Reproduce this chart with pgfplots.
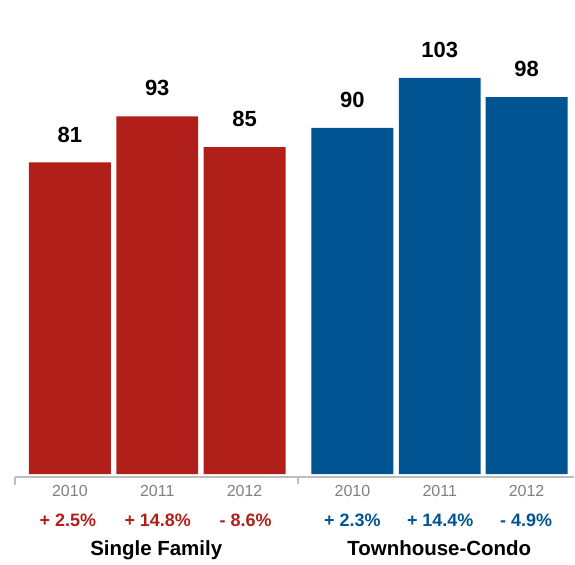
\documentclass[border=0pt]{standalone}
\usepackage{pgfplots}
\pgfplotsset{compat=1.18}
\usepackage{fontspec}
\setmainfont{Liberation Sans}
\definecolor{sfred}{RGB}{177,31,26}
\definecolor{tcblue}{RGB}{0,84,145}
\definecolor{yeargray}{RGB}{128,128,128}
\definecolor{linegray}{RGB}{190,190,190}
\tikzset{yearlab/.style={anchor=base, text=yeargray, font=\fontsize{16}{18}\selectfont, inner sep=0pt},
  pctlab/.style={anchor=base, font=\fontsize{18}{20}\selectfont\bfseries, inner sep=0pt},
  grplab/.style={anchor=base, text=black, font=\fontsize{20.5}{23}\selectfont\bfseries, inner sep=0pt}}
\begin{document}
\begin{tikzpicture}
\begin{axis}[
  scale only axis, width=575pt, height=565pt,
  xmin=0, xmax=575, ymin=-23.35, ymax=123.22,
  hide axis, clip=false,
  ybar, bar width=82, bar shift=0pt,
  /pgf/number format/assume math mode=true,
  nodes near coords,
  every node near coord/.append style={anchor=south, inner sep=0pt, yshift=20pt,
    font=\fontsize{22}{24}\selectfont\bfseries, text=black},
]
\path (rel axis cs:0,0) rectangle (rel axis cs:1,1);
\addplot[fill=sfred, draw=none] coordinates {(70,81) (157.5,93) (245,85)};
\addplot[fill=tcblue, draw=none] coordinates {(353,90) (440.5,103) (527.5,98)};
% baseline and ticks
\draw[linegray, line width=2pt] (axis cs:15.5,-0.78) -- (axis cs:575,-0.78);
\draw[linegray, line width=2pt] (axis cs:15.5,-0.78) -- (axis cs:15.5,-2.85);
\draw[linegray, line width=2pt] (axis cs:299,-0.78) -- (axis cs:299,-2.6);
% year labels
\node[yearlab] at (axis cs:70,-5.7) {2010};
\node[yearlab] at (axis cs:157.5,-5.7) {2011};
\node[yearlab] at (axis cs:245,-5.7) {2012};
\node[yearlab] at (axis cs:353,-5.7) {2010};
\node[yearlab] at (axis cs:440.5,-5.7) {2011};
\node[yearlab] at (axis cs:527.5,-5.7) {2012};
% percent labels
\node[pctlab, text=sfred] at (axis cs:68,-13.49) {+ 2.5\%};
\node[pctlab, text=sfred] at (axis cs:158,-13.49) {+ 14.8\%};
\node[pctlab, text=sfred] at (axis cs:246,-13.49) {- 8.6\%};
\node[pctlab, text=tcblue] at (axis cs:353,-13.49) {+ 2.3\%};
\node[pctlab, text=tcblue] at (axis cs:441,-13.49) {+ 14.4\%};
\node[pctlab, text=tcblue] at (axis cs:527,-13.49) {- 4.9\%};
% group labels
\node[grplab] at (axis cs:156.5,-21.2) {Single Family};
\node[grplab] at (axis cs:440,-21.2) {Townhouse-Condo};
\end{axis}
\end{tikzpicture}
\end{document}
